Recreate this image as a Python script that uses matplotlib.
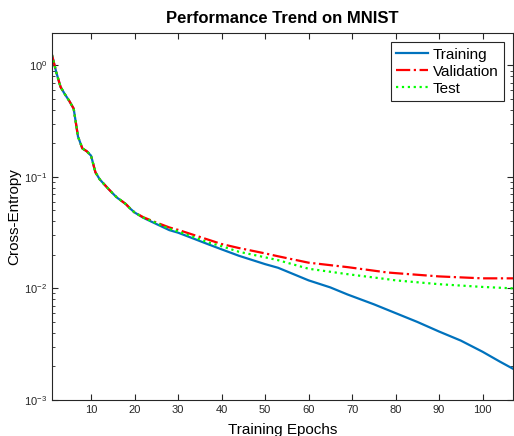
import matplotlib
matplotlib.use('Agg')
import matplotlib.pyplot as plt
import numpy as np

# shared early part (all three curves overlap)
early_epochs = [1, 2, 3, 4, 5, 6, 7, 8, 9, 10, 11, 12, 13, 14, 15, 16, 17, 18, 19, 20]
early_vals = [1.25, 0.87, 0.64, 0.55, 0.48, 0.41, 0.23, 0.18, 0.17, 0.155, 0.11, 0.095,
              0.086, 0.078, 0.071, 0.065, 0.061, 0.057, 0.052, 0.048]

train_epochs = [22, 25, 28, 30, 33, 37, 40, 44, 50, 53, 60, 65, 69, 75, 80, 85, 90, 95, 100, 104, 107]
train_vals = [0.043, 0.0378, 0.0333, 0.0316, 0.0285, 0.0248, 0.0224, 0.0196, 0.0165, 0.0153,
              0.0118, 0.0102, 0.0088, 0.0072, 0.0060, 0.0050, 0.0041, 0.0034, 0.0027, 0.0022, 0.0019]

val_epochs = [22, 25, 28, 30, 37, 40, 44, 50, 53, 60, 69, 78, 80, 90, 100, 107]
val_vals = [0.0435, 0.0390, 0.0352, 0.0335, 0.0273, 0.0250, 0.0230, 0.0206, 0.0194, 0.0170,
            0.0155, 0.0139, 0.0137, 0.0128, 0.0123, 0.0123]

test_epochs = [22, 25, 28, 30, 37, 40, 44, 50, 53, 60, 69, 78, 80, 90, 100, 107]
test_vals = [0.0432, 0.0386, 0.0342, 0.0324, 0.0258, 0.0239, 0.0213, 0.0190, 0.0179, 0.0150,
             0.0134, 0.0121, 0.0118, 0.0109, 0.0103, 0.0100]

xticks = [10, 20, 30, 40, 50, 60, 70, 80, 90, 100]

plt.rcParams['font.family'] = ['Liberation Sans', 'DejaVu Sans']
fig = plt.figure(figsize=(5.14, 4.36), dpi=100)
ax = fig.add_axes([0.101, 0.083, 0.897, 0.841])

ax.plot(early_epochs + train_epochs, early_vals + train_vals, '-', color=(0, 0.447, 0.741),
        lw=1.6, label='Training')
ax.plot(early_epochs + val_epochs, early_vals + val_vals, '-.', color='r', lw=1.6,
        label='Validation')
ax.plot(early_epochs + test_epochs, early_vals + test_vals, ':', color=(0, 1, 0), lw=1.6,
        label='Test')

ax.set_yscale('log')
ax.set_xlim(1, 107)
ax.set_ylim(1e-3, 1.95)
ax.set_xticks(xticks)
ax.tick_params(which='both', direction='in', top=True, right=True, colors='0.15',
               labelsize=8)
ax.tick_params(which='major', length=4)
ax.tick_params(which='minor', length=2.5)
for s in ax.spines.values():
    s.set_color('0.15')
    s.set_linewidth(0.8)

ax.set_title('Performance Trend on MNIST', fontsize=12, fontweight='bold', pad=7)
ax.set_xlabel('Training Epochs', fontsize=11, labelpad=6)
ax.set_ylabel('Cross-Entropy', fontsize=11, labelpad=2)

leg = ax.legend(loc='upper right', fontsize=11, fancybox=False, framealpha=1,
                edgecolor='0.15', borderaxespad=0.6, handlelength=2.1,
                borderpad=0.35, labelspacing=0.2, handletextpad=0.3)
leg.get_frame().set_linewidth(0.8)

fig.savefig('out.png', dpi=100)
